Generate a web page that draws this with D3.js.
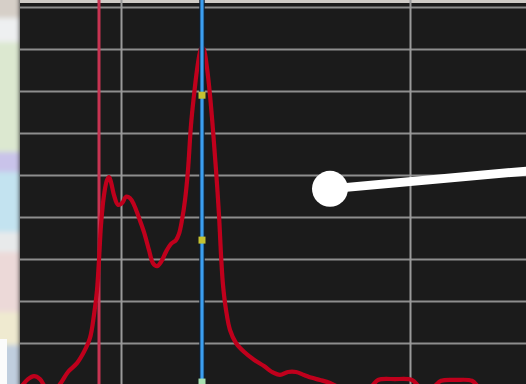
<!DOCTYPE html>
<html>
<head>
<meta charset="utf-8">
<script src="https://cdn.jsdelivr.net/npm/d3@7"></script>
<style>
  html, body { margin: 0; padding: 0; background: #1b1b1b; overflow: hidden; }
  svg { display: block; }
</style>
</head>
<body>
<div id="chart"></div>
<script>
// Trace samples (sample index) and amplitude (divisions)
const sampleIdx = [2, 8, 14, 20, 26, 34, 40, 48, 57, 64, 70, 74, 77, 79, 81, 84, 87, 89, 91, 94,
  98, 102, 106, 110, 114, 119, 124, 129, 133, 137, 141, 146, 151, 156, 159, 162, 165, 168, 171, 174,
  177, 180, 182, 184, 187, 190, 193, 196, 199, 201, 203, 206, 210, 216, 224, 234, 244, 252, 260, 268,
  276, 284, 292, 300, 310, 325, 342, 352, 358, 375, 392, 400, 412, 421, 436, 452, 460, 480, 506];
const amplitude = [-0.02, 0.14, 0.21, 0.14, -0.07, -0.12, 0.02, 0.31, 0.52, 0.79, 1.12, 1.67, 2.26, 2.98, 3.81, 4.52, 4.88, 4.95, 4.83, 4.52,
  4.29, 4.33, 4.48, 4.45, 4.29, 3.98, 3.64, 3.21, 2.90, 2.83, 2.93, 3.17, 3.36, 3.45, 3.60, 3.93, 4.40, 5.12, 6.19, 6.90,
  7.50, 7.93, 8.05, 7.98, 7.55, 6.90, 6.07, 5.12, 4.05, 3.10, 2.38, 1.79, 1.31, 1.00, 0.79, 0.60, 0.45, 0.31, 0.24, 0.31,
  0.31, 0.24, 0.17, 0.12, 0.05, -0.12, -0.12, -0.02, 0.12, 0.14, 0.12, -0.05, -0.07, 0.10, 0.12, 0.10, -0.07, -0.17, -0.17];

// Grid divisions
const hDivisions = [1, 2, 3, 4, 5, 6, 7, 8, 9];
const vDivisions = [101, 390];

// Cursors
const cursorA = 79;            // red cursor (sample)
const cursorB = 182;           // blue cursor (sample)
const cursorBMarks = [6.9, 3.45, 0.07];

// Callout pointer: anchor and tail (sample, amplitude)
const calloutAnchor = [310, 4.67];
const calloutTail = [506, 5.1];

const W = 526, H = 384;
const plotLeft = 20;

const x = d3.scaleLinear().domain([0, 506]).range([plotLeft, W]);
const y = d3.scaleLinear().domain([0, 9]).range([385, 7]);

const svg = d3.select("#chart").append("svg")
  .attr("width", W).attr("height", H);

const defs = svg.append("defs");
defs.append("filter").attr("id", "soft")
  .attr("x", "-50%").attr("y", "-10%").attr("width", "200%").attr("height", "120%")
  .append("feGaussianBlur").attr("stdDeviation", 2.5);
defs.append("filter").attr("id", "glow")
  .attr("x", "-10%").attr("y", "-10%").attr("width", "120%").attr("height", "120%")
  .append("feGaussianBlur").attr("stdDeviation", 0.5);
defs.append("clipPath").attr("id", "plotClip")
  .append("rect").attr("x", plotLeft).attr("y", 0).attr("width", W - plotLeft).attr("height", H);

// Window strip on the left edge (out of focus)
const strip = svg.append("g").attr("filter", "url(#soft)");
const stripBands = [
  [-10, 18, "#d6cfc8"], [18, 42, "#eef0f1"], [42, 152, "#dce8d0"], [152, 172, "#c9c3ea"],
  [172, 232, "#c3e3f0"], [232, 252, "#e8eaeb"], [252, 312, "#ecd9d8"], [312, 345, "#efead0"],
  [345, 400, "#c0cede"]
];
strip.selectAll("rect").data(stripBands).join("rect")
  .attr("x", -10).attr("width", plotLeft + 10)
  .attr("y", d => d[0]).attr("height", d => d[1] - d[0])
  .attr("fill", d => d[2]);
svg.append("rect").attr("x", 0).attr("y", 339).attr("width", 7).attr("height", 45).attr("fill", "#fbfbfb");

// Scope screen
svg.append("rect").attr("x", plotLeft).attr("y", 0).attr("width", W - plotLeft).attr("height", H)
  .attr("fill", "#1b1b1b");
svg.append("rect").attr("x", plotLeft).attr("y", 0).attr("width", W - plotLeft).attr("height", 3)
  .attr("fill", "#cfcbc6");

const plot = svg.append("g").attr("clip-path", "url(#plotClip)");

// Grid
plot.append("g")
  .attr("transform", `translate(${plotLeft},0)`)
  .call(d3.axisLeft(y).tickValues(hDivisions).tickSize(-(W - plotLeft)).tickFormat(""))
  .call(g => g.select(".domain").remove())
  .call(g => g.selectAll(".tick line").attr("stroke", "#8e8e8e").attr("stroke-width", 2.2));

plot.append("g")
  .attr("transform", `translate(0,${H})`)
  .call(d3.axisBottom(x).tickValues(vDivisions).tickSize(-H).tickFormat(""))
  .call(g => g.select(".domain").remove())
  .call(g => g.selectAll(".tick line").attr("stroke", "#9a9a9a").attr("stroke-width", 2));

// Red cursor
plot.append("line")
  .attr("x1", x(cursorA)).attr("x2", x(cursorA)).attr("y1", 0).attr("y2", H)
  .attr("stroke", "#c83452").attr("stroke-width", 3);

// Trace
const pts = sampleIdx.map((s, i) => [s, amplitude[i]]);
const line = d3.line().x(d => x(d[0])).y(d => y(d[1])).curve(d3.curveCatmullRom.alpha(0.5));
plot.append("path").datum(pts)
  .attr("d", line)
  .attr("fill", "none")
  .attr("stroke", "#c0001c")
  .attr("stroke-width", 4.2)
  .attr("stroke-linejoin", "round")
  .attr("filter", "url(#glow)");

// Blue cursor
plot.append("line")
  .attr("x1", x(cursorB)).attr("x2", x(cursorB)).attr("y1", 0).attr("y2", H)
  .attr("stroke", "#0f2236").attr("stroke-width", 5.5);
plot.append("line")
  .attr("x1", x(cursorB)).attr("x2", x(cursorB)).attr("y1", 0).attr("y2", H)
  .attr("stroke", "#3c9ff0").attr("stroke-width", 3.2);

plot.selectAll(".mark").data(cursorBMarks).join("rect")
  .attr("class", "mark")
  .attr("x", x(cursorB) - 3.5).attr("y", d => y(d) - 3.5)
  .attr("width", 7).attr("height", 7)
  .attr("fill", (d, i) => i === 2 ? "#a8e0b0" : "#c4c232");

// Callout pointer
svg.append("line")
  .attr("x1", x(calloutAnchor[0])).attr("y1", y(calloutAnchor[1]))
  .attr("x2", x(calloutTail[0]) + 4).attr("y2", y(calloutTail[1]))
  .attr("stroke", "#ffffff").attr("stroke-width", 9);
svg.append("circle")
  .attr("cx", x(calloutAnchor[0])).attr("cy", y(calloutAnchor[1]))
  .attr("r", 18).attr("fill", "#ffffff");
</script>
</body>
</html>
